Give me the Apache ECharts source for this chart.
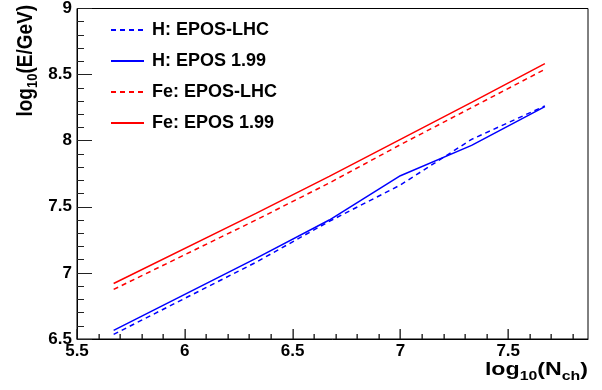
<!DOCTYPE html>
<html>
<head>
<meta charset="utf-8">
<script src="https://cdn.jsdelivr.net/npm/echarts@6/dist/echarts.min.js"></script>
<style>html,body{margin:0;padding:0;background:#fff}#c{width:602px;height:390px}</style>
</head>
<body>
<div id="c"></div>
<script>
const logNch = [5.67, 6.33, 6.67, 7.0, 7.33, 7.67];
const hEposLhc = [6.535, 7.08, 7.39, 7.665, 8.01, 8.263];
const hEpos199 = [6.565, 7.11, 7.40, 7.735, 7.965, 8.258];
const feEposLhc = [6.875, 7.40, 7.68, 7.97, 8.25, 8.54];
const feEpos199 = [6.92, 7.45, 7.73, 8.01, 8.29, 8.583];
const seriesNames = ['H: EPOS-LHC', 'H: EPOS 1.99', 'Fe: EPOS-LHC', 'Fe: EPOS 1.99'];
const xTickLabels = ['5.5', '6', '6.5', '7', '7.5'];
const yTickLabels = ['6.5', '7', '7.5', '8', '8.5', '9'];
const xMajorTicks = [5.5, 6.0, 6.5, 7.0, 7.5];
const xMinorTicks = [5.6, 5.7, 5.8, 5.9, 6.1, 6.2, 6.3, 6.4, 6.6, 6.7, 6.8, 6.9, 7.1, 7.2, 7.3, 7.4, 7.6, 7.7, 7.8];
const X_MIN = 5.5, X_MAX = 7.87, Y_MIN = 6.5, Y_MAX = 9;

const FONT = "'Liberation Sans', Arial, Helvetica, sans-serif";
const pairs = (ys) => logNch.map((x, i) => [x, ys[i]]);

const chart = echarts.init(document.getElementById('c'), null, {renderer: 'canvas'});
const mk = (name, ys, color, dashed) => ({
  name, type: 'line', data: pairs(ys), symbol: 'none', animation: false,
  lineStyle: {color, width: 1.5, type: dashed ? [5, 4] : 'solid'},
  itemStyle: {color}
});

const tickData = xMajorTicks.map(v => [v, Y_MIN, 10]).concat(xMinorTicks.map(v => [v, Y_MIN, 5]));

chart.setOption({
  animation: false,
  backgroundColor: '#ffffff',
  grid: {left: 77, top: 6, width: 511, height: 333, show: true, borderColor: '#000', borderWidth: 1, backgroundColor: 'transparent'},
  xAxis: {
    type: 'value', min: X_MIN, max: X_MAX, interval: 0.5,
    axisLine: {show: true, onZero: false, lineStyle: {color: '#000', width: 1}},
    axisTick: {show: false},
    splitLine: {show: false},
    axisLabel: {
      showMaxLabel: false, margin: 4, color: '#000', fontSize: 17, fontWeight: 'bold', fontFamily: FONT,
      formatter: (v) => { const s = String(+v.toFixed(2)); return xTickLabels.includes(s) ? s : ''; }
    }
  },
  yAxis: {
    type: 'value', min: Y_MIN, max: Y_MAX, interval: 0.5,
    axisLine: {show: true, onZero: false, lineStyle: {color: '#000', width: 1}},
    axisTick: {show: true, inside: true, length: 15, lineStyle: {color: '#222'}},
    minorTick: {show: true, splitNumber: 5, length: 7, lineStyle: {color: '#222'}},
    splitLine: {show: false},
    axisLabel: {
      margin: 5, color: '#000', fontSize: 17, fontWeight: 'bold', fontFamily: FONT,
      formatter: (v) => { const s = String(+v.toFixed(2)); return yTickLabels.includes(s) ? s : ''; }
    }
  },
  legend: {
    orient: 'vertical', left: 110, top: 21, padding: 0,
    itemWidth: 33, itemHeight: 14, itemGap: 13,
    data: seriesNames,
    itemStyle: {opacity: 0},
    textStyle: {color: '#000', fontSize: 18, fontWeight: 'bold', fontFamily: FONT, padding: [0, 0, 0, 3]}
  },
  series: [
    mk(seriesNames[0], hEposLhc, '#0000ff', true),
    mk(seriesNames[1], hEpos199, '#0000ff', false),
    mk(seriesNames[2], feEposLhc, '#ff0000', true),
    mk(seriesNames[3], feEpos199, '#ff0000', false),
    {
      type: 'custom', name: 'xticks', silent: true, clip: false, z: 10,
      encode: {x: 0, y: 1},
      data: tickData,
      renderItem: (params, api) => {
        const p = api.coord([api.value(0), api.value(1)]);
        const len = api.value(2);
        return {
          type: 'rect',
          shape: {x: Math.round(p[0]) - 0.5, y: p[1] - len, width: 1.3, height: len},
          style: {fill: '#111', stroke: null}
        };
      }
    }
  ],
  graphic: [
    {
      type: 'text', x: 26, y: 5, rotation: Math.PI / 2, scaleY: 1.15,
      style: {
        text: '{a|log}{b|10}{a|(E/GeV)}', align: 'right', verticalAlign: 'middle',
        rich: {
          a: {fontSize: 19, fontWeight: 'bold', fontFamily: FONT, fill: '#000', lineHeight: 22},
          b: {fontSize: 13, fontWeight: 'bold', fontFamily: FONT, fill: '#000', lineHeight: 14, padding: [12, 0, 0, 0]}
        }
      }
    },
    {
      type: 'text', x: 588, y: 370, scaleX: 1.22,
      style: {
        text: '{a|log}{b|10}{a|(N}{b|ch}{a|)}', align: 'right', verticalAlign: 'middle',
        rich: {
          a: {fontSize: 19, fontWeight: 'bold', fontFamily: FONT, fill: '#000', lineHeight: 22},
          b: {fontSize: 13, fontWeight: 'bold', fontFamily: FONT, fill: '#000', lineHeight: 14, padding: [12, 0, 0, 0]}
        }
      }
    }
  ]
});
</script>
</body>
</html>
